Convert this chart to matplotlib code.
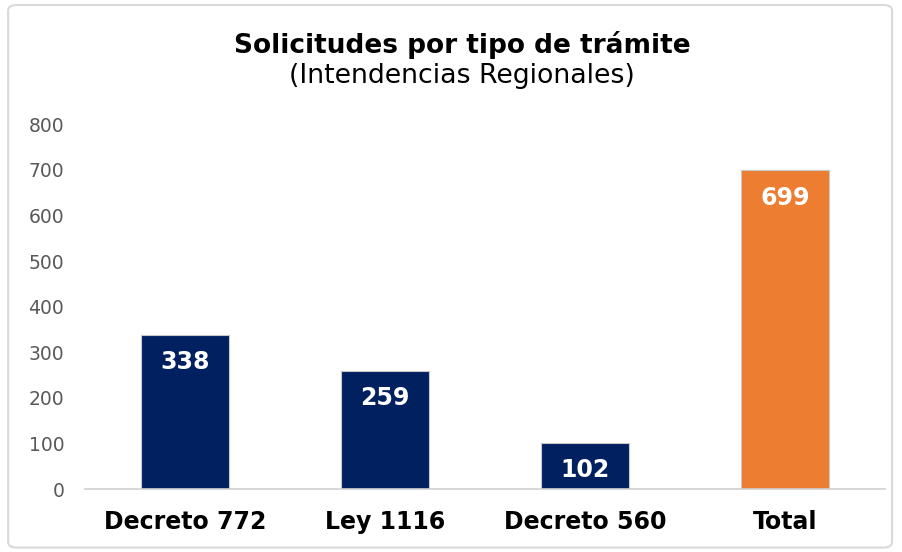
import matplotlib.pyplot as plt
from matplotlib.patches import FancyBboxPatch

categories = ['Decreto 772', 'Ley 1116', 'Decreto 560', 'Total']
values = [338, 259, 102, 699]
colors = ['#002060', '#002060', '#002060', '#ED7D31']

fig = plt.figure(figsize=(9.02, 5.52), dpi=100)
ax = fig.add_axes([0.0942, 0.114, 0.887, 0.661])

x = range(len(categories))
bars = ax.bar(x, values, width=0.44, color=colors, edgecolor='#c8c8c8', linewidth=0.8)

for bar, v in zip(bars, values):
    ax.text(bar.get_x() + bar.get_width() / 2, v - 60, str(v),
            ha='center', va='center', color='white', fontsize=17, fontweight='bold')

ax.set_xlim(-0.5, 3.5)
ax.set_ylim(0, 800)
ax.set_yticks(range(0, 801, 100))
ax.set_xticks(list(x))
ax.set_xticklabels(categories, fontsize=17, fontweight='bold', color='black')
ax.tick_params(axis='y', length=0, labelsize=13.5, labelcolor='#595959', pad=15)
ax.tick_params(axis='x', length=0, pad=15)
for s in ['top', 'right', 'left']:
    ax.spines[s].set_visible(False)
ax.spines['bottom'].set_color('#d0d0d0')
ax.spines['bottom'].set_linewidth(1.2)

fig.text(0.512, 0.918, 'Solicitudes por tipo de trámite', ha='center', va='center',
         fontsize=19, fontweight='bold')
fig.text(0.512, 0.863, '(Intendencias Regionales)', ha='center', va='center', fontsize=19.3)

border = FancyBboxPatch((0.009, 0.008), 0.98, 0.983, boxstyle='round,pad=0,rounding_size=0.01',
                        transform=fig.transFigure, fill=False, edgecolor='#d9d9d9', linewidth=1.5)
fig.patches.append(border)

fig.savefig('out.png', dpi=100)
